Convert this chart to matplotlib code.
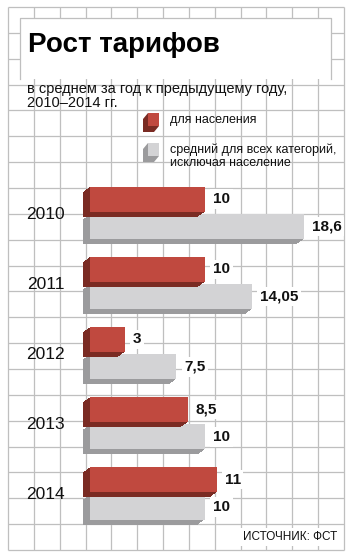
"""
Tariff growth chart (Rost tarifov), 2010-2014, recreated with matplotlib
"""

# Packages
import matplotlib
matplotlib.use('Agg')
import matplotlib.pyplot as plt
import matplotlib.transforms as mtransforms
from matplotlib.patches import Rectangle, Polygon
from matplotlib import font_manager
import numpy as np

# Data
years = ['2010', '2011', '2012', '2013', '2014']
population = [10, 10, 3, 8.5, 11]                 # для населения
other_avg = [18.6, 14.05, 7.5, 10, 10]             # средний для всех категорий

title = 'Рост тарифов'
subtitle = ['в среднем за год к предыдущему году,', '2010–2014 гг.']
legend_labels = ['для населения', 'средний для всех категорий,\nисключая население']
source = 'ИСТОЧНИК: ФСТ'

# Colours
red = '#c0493f'
red_dark = '#7a2b23'
grey = '#d3d3d5'
grey_dark = '#9b9b9d'
grid_col = '#bfbfbf'
txt = '#111111'


def fmt(v):
    return f'{v:g}'.replace('.', ',')


def main():
    installed = {f.name for f in font_manager.fontManager.ttflist}
    plt.rcParams['font.family'] = ['Liberation Sans', 'DejaVu Sans']
    narrow = 'Liberation Sans Narrow' if 'Liberation Sans Narrow' in installed else 'Liberation Sans'

    W, H = 352, 559
    fig = plt.figure(figsize=(W / 100, H / 100), dpi=100, facecolor='white')

    #==================================================================
    # Background: squared paper, title box, texts, legend (pixel coords)
    bg = fig.add_axes([0, 0, 1, 1])
    bg.set_xlim(0, W)
    bg.set_ylim(H, 0)
    bg.axis('off')

    x_lines = np.linspace(8, 344, 14)
    y_lines = np.linspace(7, 550, 22)
    bg.vlines(x_lines, 7, 550, color=grid_col, lw=0.9, zorder=1)
    bg.hlines(y_lines, 8, 344, color=grid_col, lw=0.9, zorder=1)

    # White title box with open bottom
    bg.add_patch(Rectangle((20, 18), 311, 61, fc='white', ec='none', zorder=2))
    bg.plot([20, 20, 331, 331], [79, 18, 18, 79], color=grid_col, lw=0.9, zorder=3)

    bg.text(28, 52, title, fontsize=20, fontweight='bold', color='black',
            va='baseline', ha='left', zorder=4)
    bg.text(27, 93, subtitle[0], fontsize=10.5, color=txt, va='baseline', zorder=4)
    bg.text(27, 107, subtitle[1], fontsize=10.5, color=txt, va='baseline', zorder=4)

    # Legend cubes
    for (y0, front, dark) in [(113, red, red_dark), (143, grey, grey_dark)]:
        x0, w, h, dx, dy = 148, 11, 13, 5, 6
        bg.add_patch(Polygon([(x0, y0), (x0 - dx, y0 + dy), (x0 - dx, y0 + h + dy),
                              (x0 + w - dx, y0 + h + dy), (x0 + w, y0 + h)],
                             closed=True, fc=dark, ec='none', zorder=4))
        bg.add_patch(Rectangle((x0, y0), w, h, fc=front, ec='none', zorder=5))
    bg.text(170, 120, legend_labels[0], fontsize=9, color=txt, va='center', zorder=4)
    bg.text(170, 156, legend_labels[1], fontsize=9, color=txt, va='center',
            linespacing=1.15, zorder=4)

    bg.text(337, 537, source, fontsize=8.5, family=narrow, color=txt, ha='right', va='center',
            bbox=dict(fc='white', ec='none', pad=2.5), zorder=4)

    #==================================================================
    # Bars
    ax = fig.add_axes([90 / W, 1 - 528 / H, 254 / W, 350.5 / H])
    ax.patch.set_alpha(0)
    for s in ax.spines.values():
        s.set_visible(False)

    pos = np.arange(len(years))
    h = 0.36
    off_red, off_grey = -0.19, 0.2
    depth = 7

    series = [(other_avg, off_grey, grey, grey_dark, 1),
              (population, off_red, red, red_dark, 3)]
    for vals, off, front, dark, z in series:
        # extrusion: sweep copies of the bar down-left
        for k in range(1, depth + 1):
            t = mtransforms.offset_copy(ax.transData, fig=fig, x=-k, y=-k * 5 / depth,
                                        units='dots')
            ax.barh(pos + off, vals, height=h, color=dark, lw=0, transform=t,
                    clip_on=False, zorder=z)
        ax.barh(pos + off, vals, height=h, color=front, lw=0, clip_on=False, zorder=z + 0.5)

        lab_t = mtransforms.offset_copy(ax.transData, fig=fig, x=8, y=0, units='dots')
        for p, v in zip(pos, vals):
            ax.text(v, p + off, fmt(v), transform=lab_t, ha='left', va='center',
                    fontsize=11, fontweight='bold', color=txt, zorder=6,
                    bbox=dict(fc='white', ec='none', pad=2))

    ax.set_xlim(0, 254 / 11.5)
    ax.set_ylim(4.5, -0.5)
    ax.set_xticks([])
    ax.set_yticks(pos)
    ax.set_yticklabels(years, fontsize=12.5, color=txt)
    ax.tick_params(axis='y', length=0, pad=18)

    fig.savefig('out.png', dpi=100, facecolor='white')


if __name__ == '__main__':
    main()
